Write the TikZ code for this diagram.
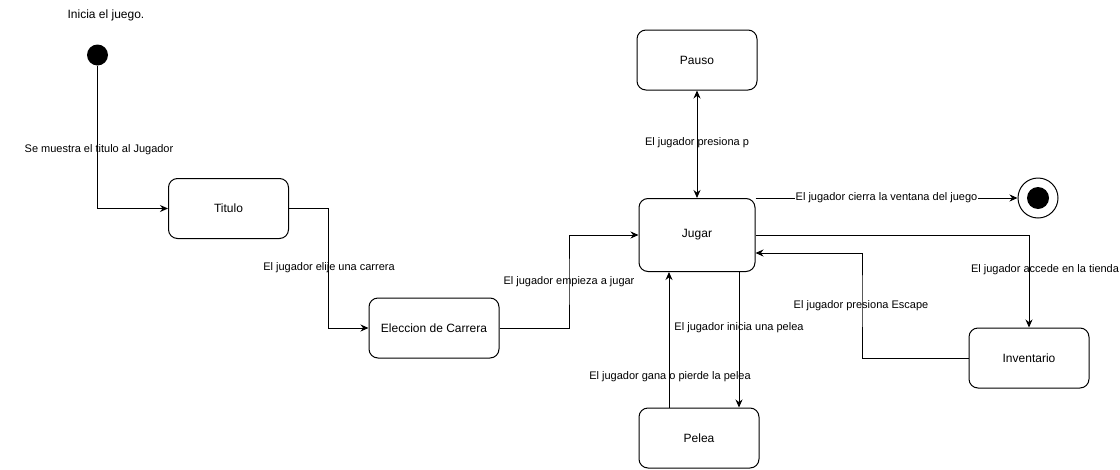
\documentclass[tikz,border=0pt]{standalone}
\usepackage{fontspec}
\setmainfont{Liberation Sans}
\usetikzlibrary{arrows.meta,calc}
\tikzset{
  estado/.style={draw, rounded corners=9pt, minimum width=120pt, minimum height=60pt, inner sep=0pt, font=\fontsize{12}{14}\selectfont},
  etiqueta/.style={font=\fontsize{11}{13}\selectfont, inner sep=1pt},
  flecha/.style={-{Stealth[length=8pt,width=7pt]}},
}
\begin{document}
\begin{tikzpicture}[x=1pt,y=-1pt,line width=1pt]
		\useasboundingbox (0,0) rectangle (1120,469);
		\node[font=\fontsize{12}{14}\selectfont] (inicia) at (106,15) {Inicia el juego.};
		\node[circle,fill,minimum size=21pt,inner sep=0pt] (inicio) at (97.5,55) {};
		\node[estado] (titulo) at (228.5,208.5) {Titulo};
		\node[estado,minimum width=130pt] (eleccion) at (434,328) {Eleccion de Carrera};
		\node[estado,minimum width=116pt,minimum height=73pt] (jugar) at (697,235) {Jugar};
		\node[estado] (pauso) at (697,60) {Pauso};
		\node[estado] (inventario) at (1029,358) {Inventario};
		\node[estado] (pelea) at (699,438) {Pelea};
		\node[circle,draw,minimum size=40pt,inner sep=0pt] (fin) at (1038,198) {};
		\node[circle,fill,minimum size=22pt,inner sep=0pt] (finc) at (fin) {};
		\draw[flecha] (inicio) |- (titulo);
		\draw[flecha] (titulo.east) -| ($(titulo.east)!0.5!(eleccion.west)$) |- (eleccion.west);
		\draw[flecha] (eleccion.east) -| ($(eleccion.east)!0.5!(jugar.west)$) |- (jugar.west);
		\draw[{Stealth[length=8pt,width=7pt]}-{Stealth[length=8pt,width=7pt]}] (pauso) -- (jugar);
		\draw[flecha] (jugar.north east) -- (fin) node[etiqueta,fill=white,midway] (lcierra) {El jugador cierra la ventana del juego};
		\draw[flecha] (jugar.east) -| (inventario.north);
		\draw[flecha] (inventario.west) -| ($(inventario.west)!0.5!(jugar.east)$) |- ($(jugar.east)+(0,18)$);
		\draw[flecha] ($(jugar.south)+(42,0)$) -- ($(pelea.north)+(40,0)$);
		\draw[flecha] ($(pelea.north)+(-30,0)$) -- ($(jugar.south)+(-28,0)$);
		\node[etiqueta] (lmuestra) at (99,150) {Se muestra el titulo al Jugador};
		\node[etiqueta] (lelije) at (329,268) {El jugador elije una carrera};
		\node[etiqueta] (lempieza) at (569,282) {El jugador empieza a jugar};
		\node[etiqueta] (lpausa) at (697,143) {El jugador presiona p};
		\node[etiqueta] (ltienda) at (1045,270) {El jugador accede en la tienda};
		\node[etiqueta] (lescape) at (861,306) {El jugador presiona Escape};
		\node[etiqueta] (linicia) at (739,328) {El jugador inicia una pelea};
		\node[etiqueta] (lgana) at (670,377) {El jugador gana o pierde la pelea};
	\end{tikzpicture}
\end{document}
